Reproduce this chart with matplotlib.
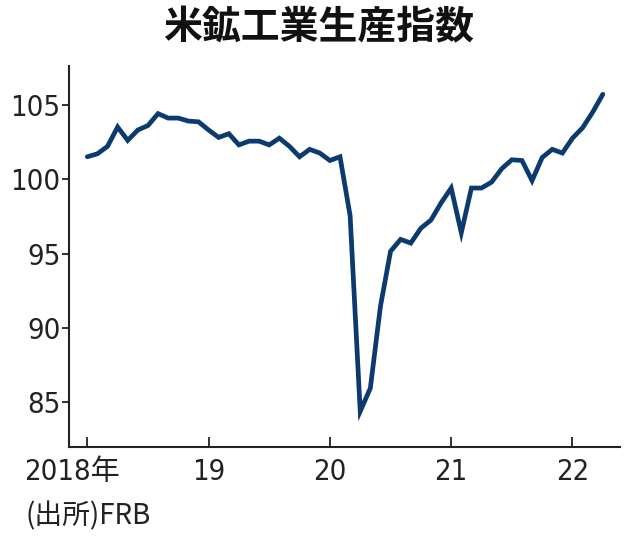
import matplotlib
matplotlib.use("Agg")
import matplotlib.pyplot as plt
import matplotlib.transforms as mtransforms
from matplotlib import font_manager

# Monthly index, Jan 2018 .. Apr 2022 (month index 0 = Jan 2018)
values = [
    101.5, 101.7, 102.2, 103.5, 102.6, 103.3, 103.6, 104.4, 104.1, 104.1, 103.9, 103.85,  # 2018
    103.3, 102.8, 103.05, 102.3, 102.55, 102.55, 102.3, 102.75, 102.2, 101.5, 102.0, 101.75,  # 2019
    101.25, 101.5, 97.55, 84.4, 85.95, 91.45, 95.15, 95.95, 95.7, 96.7, 97.25, 98.4,  # 2020
    99.4, 96.4, 99.4, 99.4, 99.8, 100.7, 101.3, 101.25, 99.9, 101.45, 102.0, 101.75,  # 2021
    102.75, 103.45, 104.5, 105.7,  # 2022
]
months = list(range(len(values)))
xtick_pos = [0, 12, 24, 36, 48]
xtick_labels = ["2018年", "19", "20", "21", "22"]
ytick_pos = [85, 90, 95, 100, 105]
title = "米鉱工業生産指数"
source = "(出所)FRB"

cjk_font = ["Noto Sans CJK JP", "DejaVu Sans"]

# pick a narrow font for the digits if one is installed
entries = font_manager.fontManager.ttflist
names = {f.name for f in entries}
tick_stretch = "normal"
if "Liberation Sans Narrow" in names:
    tick_font = ["Liberation Sans Narrow", "Noto Sans CJK JP"]
elif any(f.name == "DejaVu Sans" and str(f.stretch) == "condensed" for f in entries):
    tick_font = ["DejaVu Sans", "Noto Sans CJK JP"]
    tick_stretch = "condensed"
else:
    tick_font = ["Noto Sans CJK JP", "DejaVu Sans"]

fig = plt.figure(figsize=(6.38, 5.48), dpi=100)
ax = fig.add_axes([69/638, 1-447/548, (620-69)/638, (447-66)/548])

ax.plot(months, values, color="#0b3a6e", linewidth=3.4, solid_joinstyle="miter",
        solid_capstyle="round")

ax.set_xlim(-1.81, 52.7)
ax.set_ylim(82.0, 107.6)

ax.spines["top"].set_visible(False)
ax.spines["right"].set_visible(False)
for s in ("left", "bottom"):
    ax.spines[s].set_linewidth(1.5)
    ax.spines[s].set_color("#222222")

ax.set_yticks(ytick_pos)
ax.set_yticklabels([str(v) for v in ytick_pos])
ax.set_xticks(xtick_pos)
ax.set_xticklabels(xtick_labels)
ax.tick_params(axis="y", direction="out", length=5, width=1.3, color="#222222", pad=1)
ax.tick_params(axis="x", direction="in", length=7, width=1.3, color="#222222", pad=8)
for lab in ax.get_yticklabels() + ax.get_xticklabels():
    lab.set_fontfamily(tick_font)
    lab.set_fontstretch(tick_stretch)
    lab.set_fontsize(21)
    lab.set_color("#222222")

# shift the first x label to the left as in the reference
first = ax.get_xticklabels()[0]
first.set_transform(first.get_transform() +
                    mtransforms.ScaledTranslation(-15/100, 0, fig.dpi_scale_trans))

fig.text(319/638, 1-28/548, title, ha="center", va="center", fontsize=28,
         fontweight="bold", family=cjk_font, color="#111111")
fig.text(25/638, 1-516/548, source, ha="left", va="center", fontsize=20,
         family=cjk_font, color="#222222")

fig.savefig("out.png", dpi=100)
